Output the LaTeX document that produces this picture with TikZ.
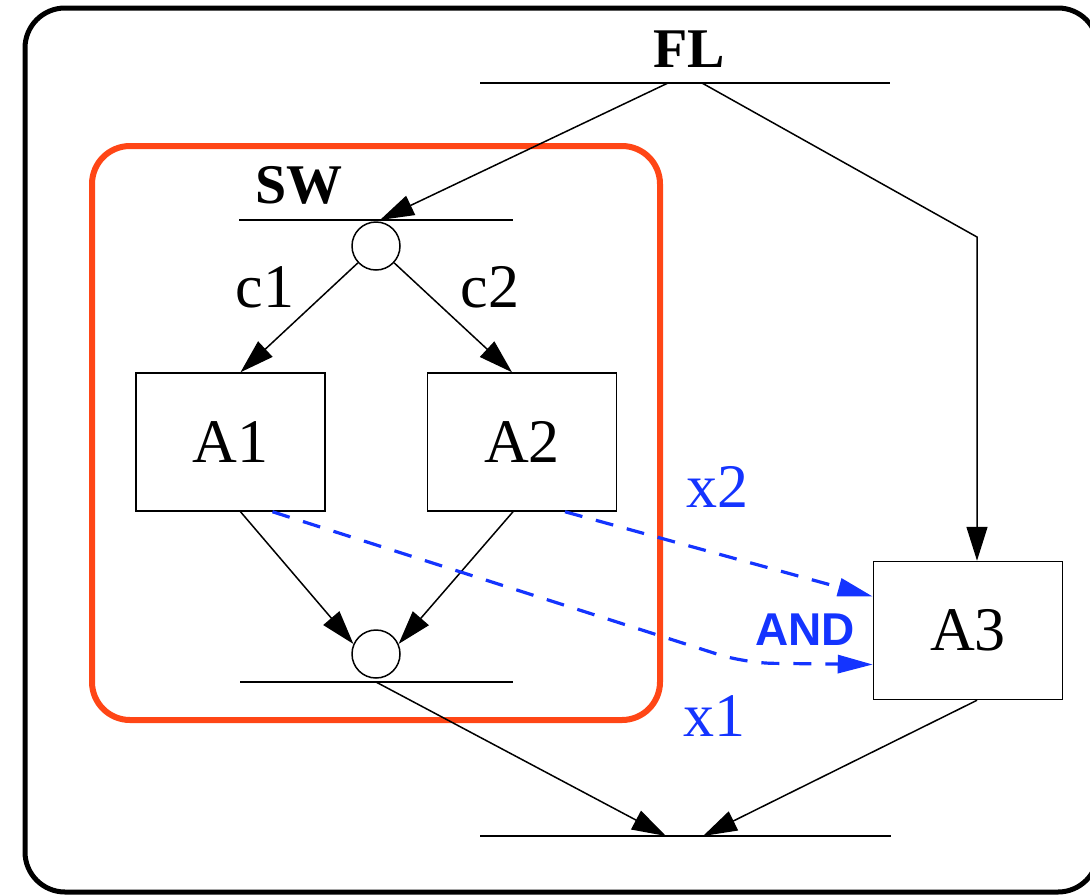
\documentclass[tikz,border=0pt]{standalone}
\usepackage{fontspec}
\setmainfont{Liberation Serif}
\newfontfamily\andfont{Liberation Sans}
\usetikzlibrary{arrows.meta,calc}
\definecolor{flowblue}{RGB}{20,52,255}
\definecolor{swred}{RGB}{255,70,22}
\tikzset{
  thin line/.style={line width=1.5pt},
  act/.style={draw, thin line, minimum width=189pt, minimum height=138pt, inner sep=0pt,
              font=\fontsize{62}{70}\selectfont},
  junction/.style={draw, thin line, circle, minimum size=48pt, inner sep=0pt},
  bar/.style={thin line},
  ctrl/.style={thin line, -{Triangle[length=34pt,width=21pt]}},
  data/.style={flowblue, line width=3.2pt, dash pattern=on 18pt off 14pt,
               -{Triangle[length=35pt,width=18pt]}},
  title/.style={font=\fontsize{56}{64}\selectfont\bfseries, anchor=base},
  guard/.style={font=\fontsize{62}{70}\selectfont, anchor=base},
  dlabel/.style={font=\fontsize{62}{70}\selectfont, text=flowblue, anchor=base},
}
\begin{document}
\begin{tikzpicture}[x=1pt,y=-1pt]
\useasboundingbox (0,0) rectangle (1090,895);

% enclosing frame (its right side runs past the page edge) and the SW region
\draw[line width=5pt, rounded corners=40pt] (25,8) rectangle (1098,892);
\draw[swred, line width=6pt, rounded corners=38pt] (92,146) rectangle (660,720);

% FL fork bar
\coordinate (flL) at (480,83);
\coordinate (flR) at (890,83);
\draw[bar] (flL) -- (flR);
\node[title] (fl) at (689,67) {FL};
\coordinate (flA) at (668,83);
\coordinate (flB) at (702,83);

% SW bar with its choice junction
\coordinate (swL) at (239,220);
\coordinate (swR) at (513,220);
\draw[bar] (swL) -- (swR);
\node[title] (sw) at (299,203) {SW};
\coordinate (swIn) at (380,220);
\node[junction] (s1) at (376,246) {};

% actions
\node[act] (A1) at (230.5,442) {A1};
\node[act] (A2) at (522,442) {A2};
\node[act] (A3) at (968,630.5) {A3};

% merge junction and bar of SW
\node[junction] (b1) at (376,654) {};
\coordinate (mgL) at (240,682);
\coordinate (mgR) at (513,682);
\draw[bar] (mgL) -- (mgR);
\coordinate (mgOut) at (376,682);

% final join bar
\coordinate (jnL) at (480,836);
\coordinate (jnR) at (891,836);
\draw[bar] (jnL) -- (jnR);
\coordinate (jnA) at (666,836);
\coordinate (jnB) at (703,836);

% control flow
\draw[ctrl] (flA) -- (swIn);
\coordinate (bend) at (977,237);
\draw[ctrl] (flB) -- (bend) -- (bend |- A3.north);
\draw[ctrl] (s1) -- ($(A1.north)+(10,0)$);
\draw[ctrl] (s1) -- ($(A2.north)+(-10,0)$);
\node[guard] (c1) at (265,307) {c1};
\node[guard] (c2) at (490,307) {c2};
\draw[ctrl] ($(A1.south)+(10,0)$) -- (b1.156);
\draw[ctrl] ($(A2.south)+(-9,0)$) -- (b1.24);
\draw[ctrl] (mgOut) -- (jnA);
\draw[ctrl] ($(A3.south)+(9,0)$) -- (jnB);

% data flow into A3
\draw[data] ($(A2.south)+(43,0)$) -- ($(A3.west)+(0,-34)$);
\coordinate (x1bend) at (745,663);
\draw[data, rounded corners=28pt] ($(A1.south)+(42,0)$) -- (x1bend) -- ($(A3.west)+(0,34)$);
\node[dlabel] (x2) at (717,507) {x2};
\node[dlabel] (x1) at (714,736) {x1};
\node[font=\fontsize{46}{52}\selectfont\andfont\bfseries, text=flowblue, anchor=base] (and) at (805,645) {AND};
\end{tikzpicture}
\end{document}
